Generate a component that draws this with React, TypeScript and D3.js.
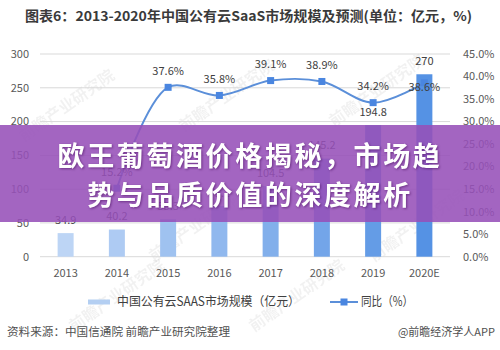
import React from "react";
import * as d3 from "d3";

const years = ["2013", "2014", "2015", "2016", "2017", "2018", "2019", "2020E"];
const marketSize = [34.9, 40.2, 55.3, 75.1, 104.5, 145.2, 194.8, 270];
const growth: (number | null)[] = [null, 15.2, 37.6, 35.8, 39.1, 38.9, 34.2, 38.6];
const leftTicks = [0, 50, 100, 150, 200, 250, 300];
const rightTicks = [0, 5, 10, 15, 20, 25, 30, 35, 40, 45];

const titleText = "图表6：2013-2020年中国公有云SaaS市场规模及预测(单位：亿元，%)";
const legendBar = "中国公有云SAAS市场规模（亿元）";
const legendLine = "同比（%）";
const sourceText = "资料来源：中国信通院 前瞻产业研究院整理";
const creditText = "@前瞻经济学人APP";
const bannerLines = ["欧王葡萄酒价格揭秘，市场趋", "势与品质价值的深度解析"];
const watermark = "前瞻产业研究院";

const W = 500, H = 350;
const FONT = "'Noto Sans CJK SC', 'Noto Sans', sans-serif";

export default function App() {
  const plotL = 40, plotR = 450, plotT = 54, plotB = 256.7;
  const pin = 0.688;
  const x = d3.scaleBand<string>().domain(years).range([plotL, plotR]).paddingInner(pin).paddingOuter(pin / 2);
  const yL = d3.scaleLinear().domain([0, 300]).range([plotB, plotT]);
  const yR = d3.scaleLinear().domain([0, 45]).range([plotB, plotT]);
  const cx = (y: string) => (x(y) as number) + x.bandwidth() / 2;
  const barColor = d3.scaleLinear<string>().domain([0, years.length - 1]).range(["#bdd5f5", "#5592e4"]).interpolate(d3.interpolateRgb);

  const pts = years.map((y, i) => ({ y, v: growth[i] })).filter(d => d.v !== null) as { y: string; v: number }[];
  const line = d3.line<{ y: string; v: number }>().x(d => cx(d.y)).y(d => yR(d.v)).curve(d3.curveCatmullRom.alpha(0.5));

  const wmPos = [[70, 110], [230, 100], [380, 95], [120, 300], [300, 300], [200, 230], [420, 230]];

  return (
    <svg width={W} height={H} style={{ position: "absolute", left: 0, top: 0, background: "#fff" }} fontFamily={FONT}>
      <rect width={W} height={H} fill="#fff" />
      <text x={25} y={21} fontSize={13.5} fontWeight={700} fill="#3a3a3a" textLength={447} lengthAdjust="spacingAndGlyphs">{titleText}</text>

      {/* watermarks */}
      {wmPos.map(([wx, wy], i) => (
        <text key={i} x={wx} y={wy} fontSize={16} fontWeight={700} fill="#000" opacity={0.05} transform={`rotate(-35 ${wx} ${wy})`} textAnchor="middle">{watermark}</text>
      ))}

      {/* gridlines */}
      {leftTicks.map(t => (
        <line key={t} x1={plotL} x2={plotR} y1={yL(t)} y2={yL(t)} stroke="#d9d9d9" strokeWidth={1} />
      ))}
      {leftTicks.map(t => (
        <text key={"l" + t} x={29} y={yL(t)} dy="0.35em" textAnchor="end" fontSize={11} fill="#595959">{t}</text>
      ))}
      {rightTicks.map(t => (
        <text key={"r" + t} x={463} y={yR(t)} dy="0.35em" textAnchor="start" fontSize={11} fill="#595959">{t.toFixed(1) + "%"}</text>
      ))}
      {years.map(y => (
        <text key={"x" + y} x={cx(y)} y={273} dy="0.35em" textAnchor="middle" fontSize={11} fill="#595959">{y}</text>
      ))}

      {/* bars */}
      {years.map((y, i) => (
        <rect key={"b" + y} x={x(y)} y={yL(marketSize[i])} width={x.bandwidth()} height={plotB - yL(marketSize[i])} fill={barColor(i)} />
      ))}
      {years.map((y, i) => (
        <text key={"bl" + y} x={cx(y)} y={yL(marketSize[i]) - 13} dy="0.35em" textAnchor="middle" fontSize={11} fill="#404040">{String(marketSize[i])}</text>
      ))}

      {/* line */}
      <path d={line(pts) || ""} fill="none" stroke="#5b8fd9" strokeWidth={2} />
      {pts.map(d => (
        <rect key={"m" + d.y} x={cx(d.y) - 3.5} y={yR(d.v) - 3.5} width={7} height={7} fill="#4a86e0" />
      ))}
      {pts.map((d, i) => {
        const last = i === pts.length - 1;
        return (
          <text key={"ml" + d.y} x={cx(d.y)} y={yR(d.v) + (last ? 4 : -16)} dy="0.35em" textAnchor="middle" fontSize={11} fill="#404040">{d.v.toFixed(1) + "%"}</text>
        );
      })}

      {/* legend */}
      <rect x={88} y={299.5} width={22} height={5} fill="#b4cff2" />
      <text x={117} y={302} dy="0.35em" fontSize={12.5} fill="#404040" textLength={183} lengthAdjust="spacingAndGlyphs">{legendBar}</text>
      <line x1={330} x2={358} y1={302} y2={302} stroke="#5b8fd9" strokeWidth={2} />
      <rect x={340.5} y={298.5} width={7} height={7} fill="#4a86e0" />
      <text x={361} y={302} dy="0.35em" fontSize={12.5} fill="#404040" textLength={52} lengthAdjust="spacingAndGlyphs">{legendLine}</text>

      {/* source */}
      <text x={7} y={332} dy="0.35em" fontSize={11} fill="#505050" textLength={223} lengthAdjust="spacingAndGlyphs">{sourceText}</text>
      <text x={495} y={332} dy="0.35em" fontSize={11} fill="#505050" textAnchor="end">{creditText}</text>

      {/* banner */}
      <rect x={0} y={125} width={W} height={97} fill="#9650b8" opacity={0.88} />
      {bannerLines.map((t, i) => (
        <text key={"bn" + i} x={250} y={157 + i * 39} dy="0.35em" textAnchor="middle" fontSize={27} fontWeight={700} fill="#fff" letterSpacing={2.6} style={{ filter: "drop-shadow(1px 1px 1px rgba(60,0,80,0.5))" }}>{t}</text>
      ))}
    </svg>
  );
}
